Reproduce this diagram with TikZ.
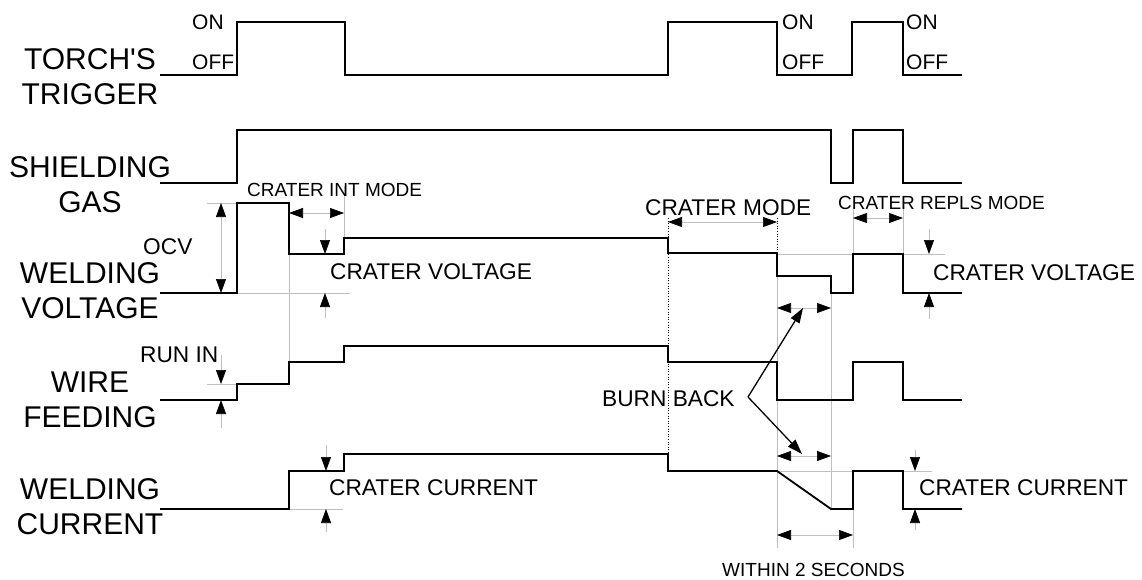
\documentclass[tikz,border=0pt]{standalone}
\usepackage{fontspec}
\setmainfont{Liberation Sans}
\usepackage{tikz}
\usetikzlibrary{arrows.meta}

\begin{document}
\begin{tikzpicture}[
  x=1pt, y=-1pt,
  every node/.style={inner sep=0pt},
  signame/.style={align=center, font=\fontsize{30}{35}\selectfont},
  lbl/.style={anchor=west, font=\fontsize{22.7}{26}\selectfont},
  lblsmall/.style={anchor=west, font=\fontsize{19}{23}\selectfont},
  onoff/.style={anchor=west, font=\fontsize{21}{25}\selectfont},
  sig/.style={line width=1.8pt, line join=miter},
  ext/.style={draw=black!25, line width=0.7pt},
  tip/.tip={Triangle[length=14pt, width=10pt, black]},
  dim/.style={ext, {tip}-{tip}},
  onedim/.style={ext, -{tip}},
  guide/.style={line width=0.6pt, dotted},
  arr/.style={line width=1.3pt, -{Triangle[length=15pt, width=10pt]}}
]
  \useasboundingbox (0,0) rectangle (1142,580);

  % signal names
  \node[signame] (torch) at (90,77) {TORCH\textquotesingle S\\TRIGGER};
  \node[signame] (gas) at (90,185) {SHIELDING\\GAS};
  \node[signame] (volt) at (90,291) {WELDING\\VOLTAGE};
  \node[signame] (wire) at (90,400) {WIRE\\FEEDING};
  \node[signame] (curr) at (90,507) {WELDING\\CURRENT};

  % helper lines
  \draw[ext] (207,203) -- (237,203);
  \draw[ext] (237,293) -- (350,293);
  \draw[ext] (207,384) -- (237,384);
  \draw[ext] (289,509) -- (343,509);
  \draw[ext] (289,254) -- (289,362);
  \draw[ext] (344,186) -- (344,238);
  \draw[ext] (853,205) -- (853,254);
  \draw[ext] (903,205) -- (903,254);
  \draw[ext] (903,254) -- (945,254);
  \draw[ext] (777,254) -- (853,254);
  \draw[ext] (903,471) -- (932,471);
  \draw[ext] (777,471) -- (853,471);
  \draw[ext] (777,276) -- (777,548);
  \draw[ext] (831,292) -- (831,509);
  \draw[ext] (853,471) -- (853,548);
  \draw[guide] (668,218) -- (668,454);
  \draw[guide] (777,218) -- (777,253);

  % signals
  \draw[sig] (160,75) -- (237,75) -- (237,22) -- (345,22) -- (345,75) -- (668,75)
    -- (668,22) -- (777,22) -- (777,75) -- (852,75) -- (852,22) -- (903,22)
    -- (903,75) -- (962,75);
  \draw[sig] (160,183) -- (237,183) -- (237,130) -- (831,130) -- (831,183)
    -- (853,183) -- (853,130) -- (903,130) -- (903,183) -- (962,183);
  \draw[sig] (160,293) -- (237,293) -- (237,203) -- (289,203) -- (289,254)
    -- (344,254) -- (344,238) -- (668,238) -- (668,253) -- (777,253) -- (777,276)
    -- (831,276) -- (831,293) -- (853,293) -- (853,254) -- (903,254) -- (903,293)
    -- (962,293);
  \draw[sig] (160,400) -- (237,400) -- (237,384) -- (289,384) -- (289,362)
    -- (344,362) -- (344,346) -- (668,346) -- (668,362) -- (777,362) -- (777,400)
    -- (853,400) -- (853,362) -- (903,362) -- (903,400) -- (962,400);
  \draw[sig] (160,509) -- (289,509) -- (289,471) -- (344,471) -- (344,454)
    -- (668,454) -- (668,471) -- (777,471) -- (831,509) -- (853,509) -- (853,471)
    -- (903,471) -- (903,509) -- (962,509);

  % ON / OFF
  \node[onoff] (on1) at (192,22) {ON};
  \node[onoff] (off1) at (192,62) {OFF};
  \node[onoff] (on2) at (782,22) {ON};
  \node[onoff] (off2) at (782,62) {OFF};
  \node[onoff] (on3) at (906,22) {ON};
  \node[onoff] (off3) at (906,62) {OFF};

  % dimensions
  \draw[dim] (221,203) -- (221,293);
  \node[lbl] (ocv) at (143,247) {OCV};
  \draw[dim] (289,213) -- (344,213);
  \node[lblsmall] (intmode) at (247,190) {CRATER INT MODE};
  \draw[onedim] (325,229) -- (325,254);
  \draw[onedim] (325,318) -- (325,293);
  \node[lbl] (cvolt1) at (330,272) {CRATER VOLTAGE};
  \draw[onedim] (221,355) -- (221,384);
  \draw[onedim] (221,428) -- (221,400);
  \node[lbl] (runin) at (140,355) {RUN IN};
  \draw[onedim] (326,445) -- (326,471);
  \draw[onedim] (326,532) -- (326,509);
  \node[lbl] (ccurr1) at (329,488) {CRATER CURRENT};

  \draw[dim] (668,222) -- (777,222);
  \node[lbl] (cmode) at (645,208) {CRATER MODE};
  \draw[dim] (853,218) -- (903,218);
  \node[lblsmall] (replsmode) at (838,203) {CRATER REPLS MODE};
  \draw[onedim] (929,229) -- (929,254);
  \draw[onedim] (929,319) -- (929,293);
  \node[lbl] (cvolt2) at (933,273) {CRATER VOLTAGE};
  \draw[onedim] (915,450) -- (915,471);
  \draw[onedim] (915,530) -- (915,509);
  \node[lbl] (ccurr2) at (919,488) {CRATER CURRENT};

  \draw[dim] (777,308) -- (831,308);
  \draw[dim] (777,456) -- (831,456);
  \draw[dim] (777,535) -- (853,535);
  \node[lblsmall] (within) at (722,570) {WITHIN 2 SECONDS};

  % burn back
  \node[lbl] (burn) at (602,399) {BURN BACK};
  \coordinate (bb) at (748,397);
  \coordinate (bbv) at (803,308);
  \coordinate (bbc) at (802,454);
  \draw[arr] (bb) -- (bbv);
  \draw[arr] (bb) -- (bbc);
\end{tikzpicture}
\end{document}
